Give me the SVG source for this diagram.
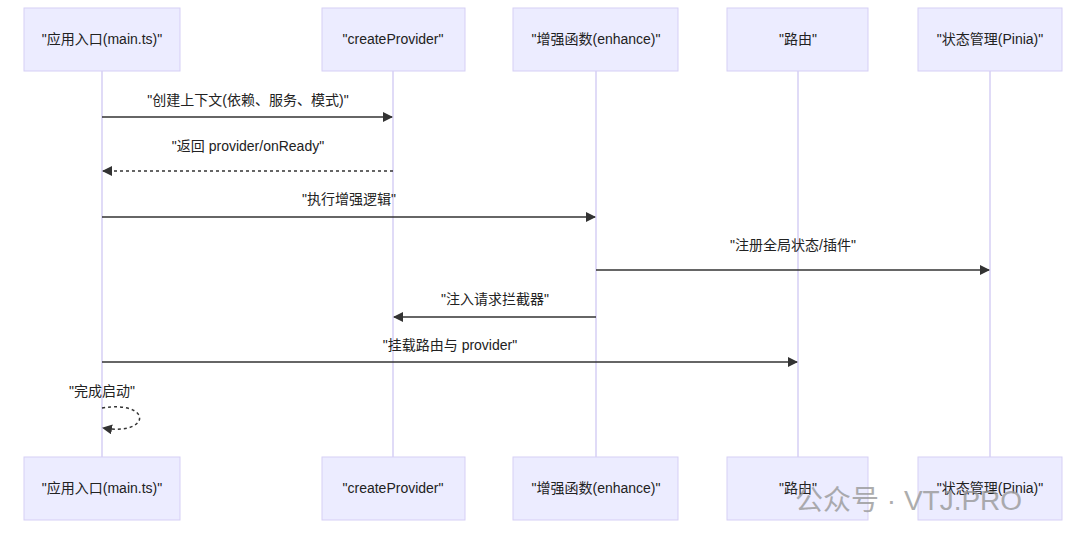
<svg xmlns="http://www.w3.org/2000/svg" width="1080" height="545" viewBox="0 0 1080 545">
<style>
.box{fill:#ECECFF;stroke:#d6cff5;stroke-width:1}
.life{stroke:#d6cff5;stroke-width:1.5}
.t{font-family:"Liberation Sans","Noto Sans CJK SC",sans-serif;font-size:14px;fill:#222;text-anchor:middle}
.m{stroke:#333;stroke-width:1.5;fill:none}
.d{stroke-dasharray:3,3}
</style>
<defs><marker id="a" markerWidth="10" markerHeight="10" refX="9" refY="5" orient="auto" markerUnits="userSpaceOnUse"><path d="M0,0L10,5L0,10z" fill="#333"/></marker></defs>
<rect width="1080" height="545" fill="#fff"/>
<g id="lifelines">
<line class="life" x1="102" y1="71" x2="102" y2="457"/>
<line class="life" x1="393" y1="71" x2="393" y2="457"/>
<line class="life" x1="596" y1="71" x2="596" y2="457"/>
<line class="life" x1="798" y1="71" x2="798" y2="457"/>
<line class="life" x1="990" y1="71" x2="990" y2="457"/>
</g>
<g id="p1"><rect class="box" x="24" y="8" width="156" height="63"/><text class="t" x="102" y="44">"应用入口(main.ts)"</text><rect class="box" x="24" y="457" width="156" height="63"/><text class="t" x="102" y="493">"应用入口(main.ts)"</text></g>
<g id="p2"><rect class="box" x="322" y="8" width="143" height="63"/><text class="t" x="393" y="44">"createProvider"</text><rect class="box" x="322" y="457" width="143" height="63"/><text class="t" x="393" y="493">"createProvider"</text></g>
<g id="p3"><rect class="box" x="513" y="8" width="165" height="63"/><text class="t" x="596" y="44">"增强函数(enhance)"</text><rect class="box" x="513" y="457" width="165" height="63"/><text class="t" x="596" y="493">"增强函数(enhance)"</text></g>
<g id="p4"><rect class="box" x="727" y="8" width="141" height="63"/><text class="t" x="798" y="44">"路由"</text><rect class="box" x="727" y="457" width="141" height="63"/><text class="t" x="798" y="493">"路由"</text></g>
<g id="p5"><rect class="box" x="918" y="8" width="144" height="63"/><text class="t" x="990" y="44">"状态管理(Pinia)"</text><rect class="box" x="918" y="457" width="144" height="63"/><text class="t" x="990" y="493">"状态管理(Pinia)"</text></g>
<g id="connectors">
<line class="m" x1="102" y1="117" x2="392" y2="117" marker-end="url(#a)"/>
<text class="t" x="248" y="105">"创建上下文(依赖、服务、模式)"</text>
<line class="m d" x1="393" y1="171" x2="103" y2="171" marker-end="url(#a)"/>
<text class="t" x="248" y="151">"返回 provider/onReady"</text>
<line class="m" x1="102" y1="217" x2="595" y2="217" marker-end="url(#a)"/>
<text class="t" x="349" y="204">"执行增强逻辑"</text>
<line class="m" x1="596" y1="270" x2="989" y2="270" marker-end="url(#a)"/>
<text class="t" x="793" y="250">"注册全局状态/插件"</text>
<line class="m" x1="596" y1="317" x2="394" y2="317" marker-end="url(#a)"/>
<text class="t" x="495" y="304">"注入请求拦截器"</text>
<line class="m" x1="102" y1="362" x2="797" y2="362" marker-end="url(#a)"/>
<text class="t" x="450" y="350">"挂载路由与 provider"</text>
<path class="m d" d="M102,408 C152,400 152,436 103,428" marker-end="url(#a)"/>
<text class="t" x="102" y="396">"完成启动"</text>
</g>
<text x="795" y="510" font-family="Liberation Sans,Noto Sans CJK SC,sans-serif" font-size="28" fill="#999" opacity="0.8">公众号 · VTJ.PRO</text>
</svg>
